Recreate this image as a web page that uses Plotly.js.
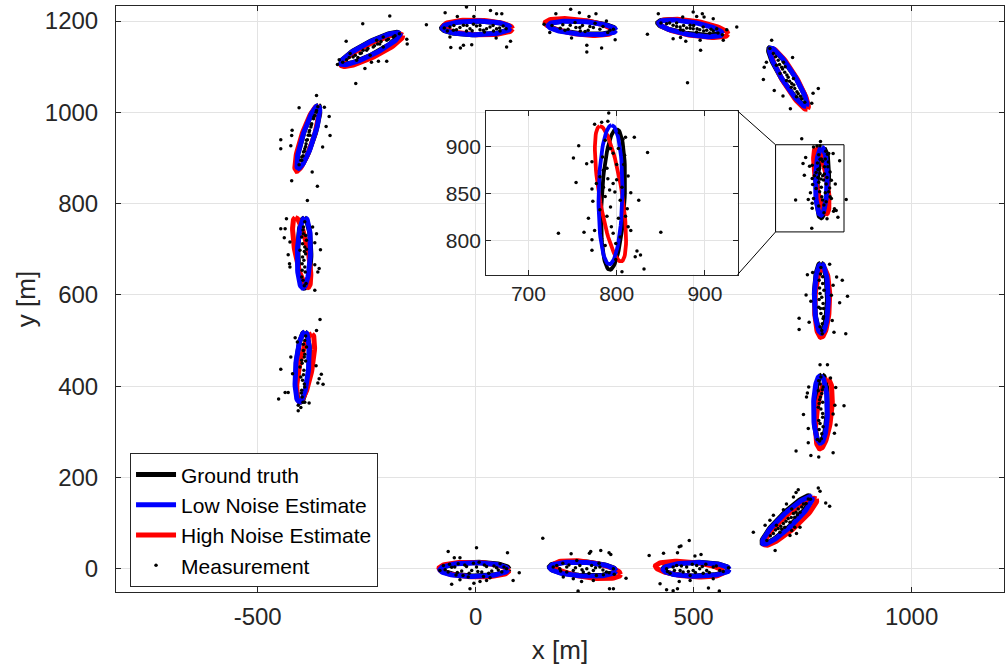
<!DOCTYPE html>
<html>
<head>
<meta charset="utf-8">
<script src="https://cdn.plot.ly/plotly-3.0.1.min.js"></script>
<style>html,body{margin:0;padding:0;background:#fff;}#chart{width:1005px;height:669px;}</style>
</head>
<body>
<div id="chart"></div>
<script>
// Ellipse parameters per series: [centerX, centerY, semiMajor, semiMinor, angleDeg]
const groundTruth = [
  [0,-1,77,15,0],[245,0,76,15,-3],[505,-1,76,15,0],[713,107,76,15,43],[792,351,74,15,88],
  [792,595,75,15,90],[796,844,75,13,87],[716,1078,76,14,-56],[491,1186,74,14,-8],[245,1186,76,14,-4],
  [0,1185,78,15,0],[-242,1140,75,14,26],[-384,946,73,13,71],[-393,692,77,15,90],[-397,442,77,15,86]
];
const lowNoise = [
  [-4,-2,78,15,0],[246,-1,76,15,-3],[506,-1.5,76,15,0],[715,106,76,15,42],[791,349,74,16,90],
  [793,592,76,16,90],[793,849,74,13.5,89],[717,1077,76,14,-57],[493,1184,74,14,-9.5],[244,1185,78,14,-4],
  [1.5,1185,78,15,0],[-241.6,1139.4,75.5,14,25.8],[-384,946,72.5,13,71.3],[-394,692,77,15,88],[-398,442,77,15,85]
];
const highNoise = [
  [-4,-2,80,16,-2],[256,-2,77,17,-8],[490,-1,78,16,-5],[722,103,78,16,40],[799,339,77,17,83],
  [795,583,76,17,88],[793,850,73,13,99.6],[720,1073,78,15,-58],[500,1184,80,16,-9],[237,1187,78,16,-7],
  [5,1186,80,16,-2],[-238,1136,78,15,25],[-387,942,75,14,71],[-399,693,78,15,101],[-390,440,76,15,79]
];

// Measurements per cluster [x, y]
const measA = [[-63,38],[2,46],[73,35],[-36,24],[-49,24],[100,-9],[86,-26],[-55,-34],[-13,-44],[-4,-32],[10,-28],[25,-26],[-36,-24],[-74,7],[-63,-7],[-48,4],[-32,-5],[-21,5],[-9,-4],[2,4],[14,-7],[25,5],[37,-5],[48,2],[60,-7],[-29,-15],[18,-17],[56,11],[-40,11],[-5,12],[33,-20],[-82,-4],[71,0],[-17,-18],
  [-70,-2],[-55,3],[-42,-8],[-25,8],[-15,-10],[5,-6],[20,8],[30,-10],[42,6],[52,-3],[65,4],[-60,10],[8,14],[-45,-14]];
const measB = [[154,67],[219,33],[261,34],[264,38],[287,40],[306,35],[310,31],[345,-21],[316,-44],[307,-44],[235,-49],[243,-28],[201,-18],[270,-26],[193,0],[209,4],[224,-4],[239,7],[255,0],[270,-4],[285,4],[300,-7],[209,-7],[247,-7],[266,7],[293,-13],[186,7],[316,0],[232,18],[277,-15],[224,-22],
  [178,4],[195,-5],[214,8],[229,2],[244,-2],[260,-10],[275,2],[292,-3],[306,-9],[318,-12],[200,12],[283,12]];
const measC = [[398,29],[431,34],[463,35],[467,48],[471,50],[490,62],[503,28],[517,31],[423,-33],[438,-46],[453,-48],[463,-44],[467,-28],[534,-42],[559,-49],[545,-22],[492,-26],[438,0],[453,4],[469,-4],[484,4],[499,-4],[514,0],[530,-4],[545,4],[560,-4],[476,-7],[507,7],[461,7],[522,-10],[492,-15],[446,-10],
  [440,-6],[456,-4],[472,6],[488,-6],[504,-8],[520,5],[536,-8],[552,6],[568,-6],[580,2],[497,10],[528,10]];
const measD = [[740,173],[735,167],[786,177],[790,170],[803,144],[812,137],[729,157],[713,142],[706,129],[683,117],[675,106],[664,95],[637,80],[687,40],[721,73],[725,84],[736,77],[744,91],[732,91],[683,77],[694,88],[706,99],[717,110],[729,121],[740,131],[752,142],[763,153],[698,80],[709,91],[721,102],[732,113],[744,124],[690,95],[725,131],
  [668,62],[676,72],[688,85],[700,93],[712,104],[724,112],[735,124],[748,135],[758,143],[768,152],[702,87],[738,118]];
const measE = [[790,447],[807,447],[814,418],[764,398],[761,385],[826,397],[845,357],[752,338],[763,307],[827,315],[823,297],[763,276],[784,283],[735,258],[769,248],[787,245],[820,254],[824,358],[820,339],[759,376],[790,405],[794,384],[788,362],[796,340],[790,318],[794,296],[797,398],[786,354],[797,311],[791,376],[787,325],
  [792,420],[787,412],[795,392],[789,370],[792,350],[796,332],[788,305],[793,285],[789,280],[796,365],[786,390]];
const measF = [[812,667],[761,644],[773,649],[828,639],[841,632],[758,600],[769,586],[820,621],[835,583],[853,597],[742,549],[742,524],[765,540],[818,544],[822,518],[849,515],[816,599],[791,646],[796,625],[790,603],[797,581],[792,559],[795,537],[788,632],[799,610],[787,573],[798,552],[794,522],
  [792,660],[796,640],[789,615],[794,595],[791,570],[797,548],[790,530],[795,515],[788,590],[798,570]];
const measG = [[791,936],[775,924],[783,926],[790,927],[757,901],[751,888],[766,882],[772,884],[754,862],[772,855],[773,842],[768,824],[763,809],[775,811],[772,801],[772,790],[787,795],[799,797],[820,910],[835,894],[810,910],[807,908],[803,915],[809,891],[808,881],[800,881],[813,869],[806,857],[816,851],[825,843],[812,834],[810,826],[813,815],[816,811],[823,789],[827,785],[821,783],[831,770],[806,767],[799,780],[804,804],[734,808],[850,809],[784,889],[785,875],[789,877],[790,866],[796,861],[798,852],[787,847],[793,836],[781,833],[789,826],[794,815],[796,808],[802,824],[804,843],[785,857],[792,854],[800,865],[790,897],[796,893],[787,907],[793,898],[802,898],[781,868],[777,861],[748,942],[771,746]];
const measH = [[679,1158],[667,1110],[662,1099],[660,1072],[727,1120],[786,1052],[774,1042],[771,1020],[722,1008],[705,1036],[685,1048],[683,1129],[694,1114],[702,1099],[709,1088],[717,1077],[725,1063],[732,1052],[740,1041],[748,1030],[690,1103],[706,1110],[713,1070],[729,1074],[736,1034],[698,1085],
  [675,1140],[688,1122],[697,1105],[704,1095],[714,1082],[720,1068],[730,1060],[737,1045],[745,1035],[755,1022],[710,1100],[724,1055]];
const measI = [[419,1216],[475,1209],[499,1220],[507,1210],[520,1216],[524,1209],[545,1205],[394,1171],[453,1161],[470,1164],[482,1156],[515,1158],[516,1136],[568,1158],[576,1181],[599,1187],[486,1065],[438,1194],[453,1191],[469,1187],[484,1185],[499,1183],[514,1181],[530,1180],[545,1178],[461,1196],[492,1191],[522,1187],[553,1183],[476,1180],[507,1176],[537,1174],
  [425,1196],[445,1196],[461,1188],[477,1190],[492,1184],[508,1183],[523,1178],[540,1182],[556,1174],[566,1170],[500,1190],[470,1181]];
const measJ = [[184,1216],[218,1226],[238,1218],[276,1216],[260,1210],[320,1159],[289,1141],[255,1132],[255,1147],[220,1163],[157,1193],[194,1184],[217,1191],[239,1186],[262,1188],[285,1182],[308,1180],[205,1180],[251,1177],[274,1195],[228,1197],[300,1200],[170,1175],
  [175,1190],[200,1192],[212,1182],[230,1186],[245,1190],[258,1180],[270,1186],[292,1188],[303,1175],[316,1182],[240,1178]];
const measK = [[-113,1192],[-70,1218],[-42,1210],[-21,1231],[-4,1210],[34,1223],[48,1216],[60,1216],[-59,1165],[-57,1142],[-35,1141],[-28,1147],[-9,1148],[47,1163],[71,1143],[80,1156],[-59,1187],[-44,1181],[-28,1191],[-13,1183],[2,1189],[18,1180],[33,1187],[48,1183],[63,1189],[-51,1180],[-21,1178],[10,1181],[41,1178],[-5,1193],[56,1178],
  [-72,1185],[-65,1178],[-36,1186],[-20,1190],[-8,1179],[10,1190],[25,1183],[40,1190],[55,1185],[70,1183],[-50,1190],[20,1176]];
const measL = [[-259,1194],[-297,1156],[-197,1211],[-158,1160],[-157,1150],[-204,1112],[-223,1112],[-239,1110],[-254,1096],[-275,1063],[-313,1115],[-317,1105],[-212,1165],[-296,1115],[-281,1121],[-265,1129],[-250,1136],[-235,1143],[-220,1150],[-204,1158],[-189,1165],[-273,1114],[-242,1125],[-212,1143],[-258,1136],[-227,1158],[-288,1129],
  [-305,1110],[-290,1120],[-276,1125],[-262,1130],[-247,1140],[-232,1146],[-217,1155],[-200,1160],[-185,1168],[-175,1172],[-270,1120],[-225,1150]];
const measM = [[-365,1037],[-405,1010],[-347,1011],[-336,991],[-421,961],[-422,949],[-447,940],[-447,920],[-424,927],[-351,924],[-334,949],[-422,850],[-363,838],[-386,807],[-375,869],[-343,969],[-365,1004],[-372,986],[-378,968],[-384,950],[-389,931],[-395,913],[-401,895],[-369,993],[-382,957],[-392,920],[-376,975],[-388,939],[-399,902],
  [-405,885],[-399,895],[-396,905],[-390,925],[-386,940],[-381,960],[-377,972],[-371,990],[-366,1000],[-362,1012],[-393,915],[-380,950]];
const measN = [[-434,767],[-447,745],[-437,745],[-439,725],[-426,716],[-430,688],[-427,668],[-426,661],[-374,749],[-365,734],[-369,714],[-356,699],[-369,666],[-359,658],[-362,650],[-369,610],[-395,749],[-399,727],[-392,705],[-397,683],[-392,661],[-399,639],[-388,720],[-403,698],[-389,625],[-395,734],[-394,676],[-398,654],
  [-392,760],[-396,742],[-390,730],[-397,712],[-393,695],[-390,690],[-398,668],[-391,650],[-396,632],[-393,620],[-388,700]];
const measO = [[-357,546],[-365,522],[-414,506],[-409,497],[-424,464],[-447,437],[-420,427],[-354,426],[-359,416],[-350,404],[-362,407],[-430,386],[-437,386],[-452,372],[-407,358],[-401,353],[-407,346],[-382,363],[-392,365],[-366,445],[-392,500],[-395,478],[-399,457],[-394,435],[-397,413],[-399,391],[-388,486],[-403,442],[-392,398],[-393,464],[-398,376],
  [-390,510],[-395,492],[-392,470],[-398,450],[-395,425],[-393,405],[-400,385],[-396,365],[-390,455],[-401,420]];

const seriesNames = ['Ground truth','Low Noise Estimate','High Noise Estimate','Measurement'];
const xTickVals = [-500, 0, 500, 1000];
const xTickText = ['-500', '0', '500', '1000'];
const mainXRange = [-825, 1212];
const mainYRange = [-51, 1233];
const insetXRange = [652, 937];
const insetYRange = [764, 938];
const zoomBox = [688, 845, 738, 929]; // x0, x1, y0, y1

const allMeas = [measA,measB,measC,measD,measE,measF,measG,measH,measI,measJ,measK,measL,measM,measN,measO];

function ellipseOutline(list) {
  const xs = [], ys = [];
  const N = 90;
  list.forEach(p => {
    const [cx, cy, a, b, thDeg] = p;
    const th = thDeg * Math.PI / 180;
    for (let i = 0; i <= N; i++) {
      const t = 2 * Math.PI * i / N;
      xs.push(cx + a * Math.cos(t) * Math.cos(th) - b * Math.sin(t) * Math.sin(th));
      ys.push(cy + a * Math.cos(t) * Math.sin(th) + b * Math.sin(t) * Math.cos(th));
    }
    xs.push(null); ys.push(null);
  });
  return {x: xs, y: ys};
}

const gt = ellipseOutline(groundTruth);
const lo = ellipseOutline(lowNoise);
const hi = ellipseOutline(highNoise);
const mx = [], my = [];
allMeas.forEach(c => c.forEach(p => { mx.push(p[0]); my.push(p[1]); }));

const traces = [];
function addSet(xa, ya, lw, ms, showleg) {
  traces.push({x: gt.x, y: gt.y, xaxis: xa, yaxis: ya, mode: 'lines', name: seriesNames[0], legendrank: 1,
    line: {color: '#000000', width: lw}, showlegend: showleg, hoverinfo: 'skip'});
  traces.push({x: hi.x, y: hi.y, xaxis: xa, yaxis: ya, mode: 'lines', name: seriesNames[2], legendrank: 3,
    line: {color: '#ff0000', width: lw}, showlegend: showleg, hoverinfo: 'skip'});
  traces.push({x: lo.x, y: lo.y, xaxis: xa, yaxis: ya, mode: 'lines', name: seriesNames[1], legendrank: 2,
    line: {color: '#0000ff', width: lw}, showlegend: showleg, hoverinfo: 'skip'});
  traces.push({x: mx, y: my, xaxis: xa, yaxis: ya, mode: 'markers', name: seriesNames[3], legendrank: 4,
    marker: {color: '#000000', size: ms}, showlegend: showleg, hoverinfo: 'skip'});
}
addSet('x', 'y', 5, 3.5, true);
addSet('x2', 'y2', 3.8, 3.5, false);

const insetDomX = [0.4167, 0.700];
const insetDomY = [0.5416, 0.8208];
const cornerX = mainXRange[0] + insetDomX[1] * (mainXRange[1] - mainXRange[0]);
const cornerYTop = mainYRange[0] + insetDomY[1] * (mainYRange[1] - mainYRange[0]);
const cornerYBot = mainYRange[0] + insetDomY[0] * (mainYRange[1] - mainYRange[0]);

const axCol = '#262626';
const gridCol = '#e3e3e3';
const fontFam = 'Liberation Sans, Arial, Helvetica, sans-serif';

const baseAxis = {
  showline: true, linecolor: axCol, linewidth: 1, mirror: 'allticks',
  ticks: 'inside', ticklen: 5, tickcolor: axCol, tickwidth: 1,
  showgrid: true, gridcolor: gridCol, gridwidth: 1, zeroline: false,
  tickfont: {family: fontFam, size: 24, color: axCol}
};

const layout = {
  width: 1005, height: 669,
  margin: {l: 116, r: 1, t: 6, b: 77},
  paper_bgcolor: '#ffffff', plot_bgcolor: '#ffffff',
  font: {family: fontFam, color: axCol},
  showlegend: true,
  legend: {x: 0.0158, y: 0.1224, xanchor: 'left', yanchor: 'middle', bgcolor: '#ffffff',
    bordercolor: axCol, borderwidth: 1, font: {family: fontFam, size: 21, color: '#000000'},
    traceorder: 'normal', tracegroupgap: 0, itemwidth: 40},
  xaxis: Object.assign({}, baseAxis, {range: mainXRange, tickmode: 'array', tickvals: xTickVals, ticktext: xTickText,
    domain: [0, 1], ticklabelstandoff: 3,
    title: {text: 'x [m]', font: {family: fontFam, size: 26, color: axCol}, standoff: 12}}),
  yaxis: Object.assign({}, baseAxis, {range: mainYRange, dtick: 200, tick0: 0, domain: [0, 1], ticklabelstandoff: 12,
    title: {text: 'y [m]', font: {family: fontFam, size: 26, color: axCol}, standoff: 1}}),
  xaxis2: Object.assign({}, baseAxis, {range: insetXRange, dtick: 100, tick0: 0, domain: insetDomX, anchor: 'y2',
    tickfont: {family: fontFam, size: 21, color: axCol}}),
  yaxis2: Object.assign({}, baseAxis, {range: insetYRange, dtick: 50, tick0: 0, domain: insetDomY, anchor: 'x2',
    tickfont: {family: fontFam, size: 21, color: axCol}}),
  shapes: [
    {type: 'rect', xref: 'x', yref: 'y', x0: zoomBox[0], x1: zoomBox[1], y0: zoomBox[2], y1: zoomBox[3],
      line: {color: '#000000', width: 1}, layer: 'above'},
    {type: 'line', xref: 'x', yref: 'y', x0: zoomBox[0], y0: zoomBox[3], x1: cornerX, y1: cornerYTop,
      line: {color: '#000000', width: 1}, layer: 'above'},
    {type: 'line', xref: 'x', yref: 'y', x0: zoomBox[0], y0: zoomBox[2], x1: cornerX, y1: cornerYBot,
      line: {color: '#000000', width: 1}, layer: 'above'}
  ]
};

Plotly.newPlot('chart', traces, layout, {staticPlot: true, displayModeBar: false});
</script>
</body>
</html>
